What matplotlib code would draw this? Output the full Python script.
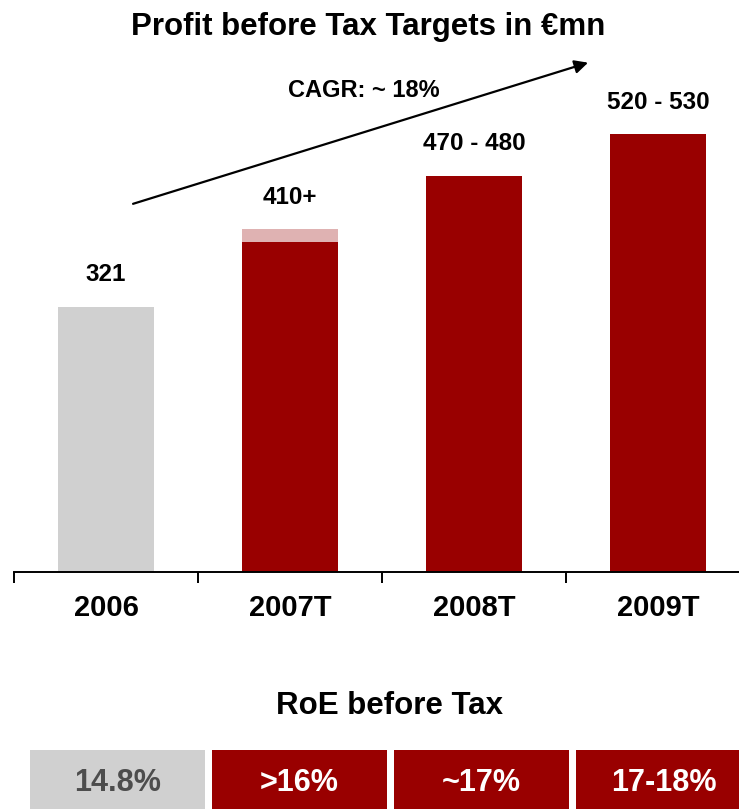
import matplotlib.pyplot as plt

plt.rcParams["font.family"] = ["Liberation Sans", "DejaVu Sans"]
plt.rcParams["font.weight"] = "bold"

years = ["2006", "2007T", "2008T", "2009T"]
pbt_base = [321, 400, 480, 530]
pbt_extra = [0, 15, 0, 0]
pbt_labels = ["321", "410+", "470 - 480", "520 - 530"]
roe_labels = ["14.8%", ">16%", "~17%", "17-18%"]

RED = "#990000"
GREY = "#d0d0d0"
PINK = "#dfb2b2"
bar_colors = [GREY, RED, RED, RED]
cell_colors = [GREY, RED, RED, RED]
cell_text = ["#4d4d4d", "white", "white", "white"]

W, H = 739, 809
fig = plt.figure(figsize=(W / 100, H / 100), dpi=100)

# main bar chart: baseline at 572px, left axis end at 14px, 184px per category
ax = fig.add_axes([14 / W, (H - 572) / H, 1 - 14 / W, 572 / H])
ax.set_xlim(-0.5, (W - 14) / 184 - 0.5)
ax.set_ylim(0, 572 / 0.8255)
x = range(len(years))
ax.bar(x, pbt_base, width=0.52, color=bar_colors)
ax.bar(x, pbt_extra, width=0.52, bottom=pbt_base, color=PINK)

for i, lab in enumerate(pbt_labels):
    top = pbt_base[i] + pbt_extra[i]
    ax.annotate(lab, (i, top), xytext=(0, 15), textcoords="offset points",
                ha="center", va="bottom", fontsize=17.5, fontweight="bold")

for s in ["top", "right", "left"]:
    ax.spines[s].set_visible(False)
ax.spines["bottom"].set_linewidth(1.4)
ax.set_yticks([])
ax.set_xticks([i - 0.5 for i in x])
ax.set_xticklabels([])
ax.tick_params(axis="x", length=8, width=1.4, direction="out")
ax.set_xticks(list(x), minor=True)
ax.set_xticklabels(years, minor=True, fontsize=21, fontweight="bold")
ax.tick_params(axis="x", which="minor", length=0, pad=16)

# CAGR arrow
ax.annotate("", xy=(2.62, 617), xytext=(0.147, 446),
            arrowprops=dict(arrowstyle="-|>", color="black", lw=1.6,
                            mutation_scale=20, shrinkA=0, shrinkB=0))
ax.text(1.40, 583, "CAGR: ~ 18%", ha="center", va="center",
        fontsize=17, fontweight="bold")

fig.text(368 / W, 1 - 27 / H, "Profit before Tax Targets in €mn",
         ha="center", va="center", fontsize=22.5, fontweight="bold")

fig.text(390 / W, 1 - 706 / H, "RoE before Tax",
         ha="center", va="center", fontsize=22.5, fontweight="bold")

# RoE row
tx = fig.add_axes([30 / W, -0.02, 728 / W, (H - 750) / H + 0.02])
tx.set_xlim(0, 4)
tx.set_ylim(0, 1)
tx.axis("off")
tx.bar(range(4), [1] * 4, width=175 / 182, align="edge", color=cell_colors)
for i, lab in enumerate(roe_labels):
    tx.text(i + 175 / 182 / 2, 0.56, lab, ha="center", va="center",
            fontsize=22, fontweight="bold", color=cell_text[i])

fig.savefig("out.png", dpi=100)
